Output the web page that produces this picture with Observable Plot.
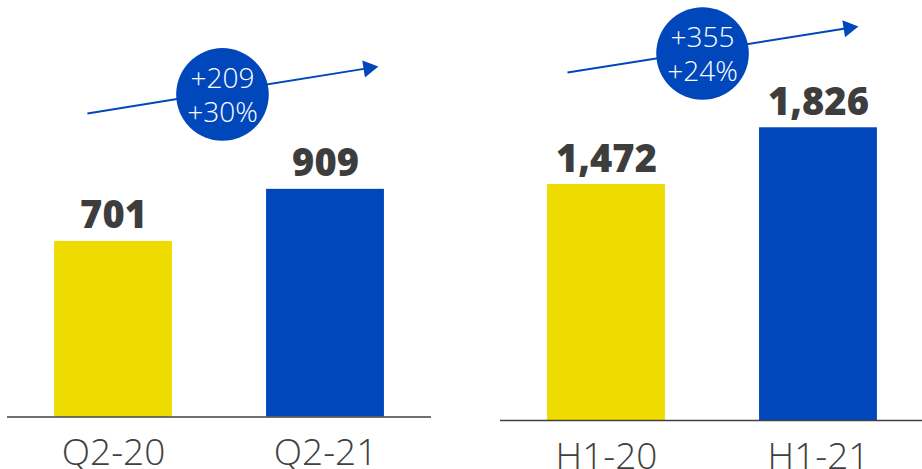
<!DOCTYPE html>
<html>
<head>
<meta charset="utf-8">
<script src="https://cdn.jsdelivr.net/npm/d3@7"></script>
<script src="https://cdn.jsdelivr.net/npm/@observablehq/plot@0.6"></script>
<style>
  html, body { margin: 0; padding: 0; background: #ffffff; overflow: hidden; }
  #chart { position: relative; width: 922px; height: 469px; background: #ffffff; }
  #left, #right { position: absolute; top: 0; }
  #left { left: 0; }
  #right { left: 480px; }
</style>
</head>
<body>
<div id="chart"><div id="left"></div><div id="right"></div></div>
<script>
// ---- data ----
const quarterCategories = ["Q2-20", "Q2-21"];
const quarterValues = [701, 909];
const halfCategories = ["H1-20", "H1-21"];
const halfValues = [1472, 1826];
const barColors = ["#EEDC00", "#0047BB"];
const quarterChange = ["+209", "+30%"];
const halfChange = ["+355", "+24%"];
// growth arrows (x in category index units, y in value units)
const quarterArrow = [{x1: -0.123, y1: 1212, x2: 1.203, y2: 1393}];
const halfArrow = [{x1: -0.184, y1: 2171, x2: 1.142, y2: 2448}];
const quarterBadge = [{x: 0.514, y: 1288}];
const halfBadge = [{x: 0.453, y: 2289}];

const BLUE = "#0047BB";
const TEXT = "#3d3d3d";
const fmt = d3.format(",");

function panel({cats, vals, change, arrow, badge, width, marginLeft, marginRight, marginBottom, xDomain, yDomain}) {
  const data = cats.map((c, i) => ({i, c, v: vals[i], color: barColors[i]}));
  return Plot.plot({
    width,
    height: 469,
    marginTop: 0,
    marginLeft,
    marginRight,
    marginBottom,
    style: {fontFamily: "'Open Sans', sans-serif", fontSize: "37px", fontWeight: 300, color: "#404040", background: "#ffffff"},
    x: {domain: xDomain, ticks: cats.map((c, i) => i), tickFormat: i => cats[i], tickSize: 0, tickPadding: 22, label: null},
    y: {domain: yDomain, axis: null},
    color: {type: "identity"},
    marks: [
      Plot.rectY(data, {x1: d => d.i - 0.278, x2: d => d.i + 0.278, y: "v", fill: "color"}),
      Plot.ruleY([0], {stroke: "#404040", strokeWidth: 1.5}),
      Plot.text(data, {x: "i", y: "v", text: d => fmt(d.v), lineAnchor: "bottom", dy: -13, fontSize: 38, fontWeight: 800, fill: TEXT, letterSpacing: "1px"}),
      Plot.link(arrow, {x1: "x1", y1: "y1", x2: "x2", y2: "y2", stroke: BLUE, strokeWidth: 2}),
      Plot.dot(arrow, {x: "x2", y: "y2", symbol: "triangle", r: 6.4, fill: BLUE, stroke: "none", rotate: 81}),
      Plot.dot(badge, {x: "x", y: "y", r: 46.3, fill: BLUE, stroke: "none"}),
      Plot.text(badge, {x: "x", y: "y", text: () => change.join("\n"), lineAnchor: "middle", lineHeight: 34 / 28, fontSize: 28, fontWeight: 300, fill: "#ffffff"})
    ]
  });
}

document.getElementById("left").appendChild(panel({
  cats: quarterCategories, vals: quarterValues, change: quarterChange,
  arrow: quarterArrow, badge: quarterBadge,
  width: 460, marginLeft: 7, marginRight: 29, marginBottom: 52.5,
  xDomain: [-0.5, 1.5], yDomain: [0, 1663]
}));
document.getElementById("right").appendChild(panel({
  cats: halfCategories, vals: halfValues, change: halfChange,
  arrow: halfArrow, badge: halfBadge,
  width: 442, marginLeft: 20, marginRight: 0, marginBottom: 49,
  xDomain: [-0.5, 1.4906], yDomain: [0, 2620]
}));
</script>
</body>
</html>
